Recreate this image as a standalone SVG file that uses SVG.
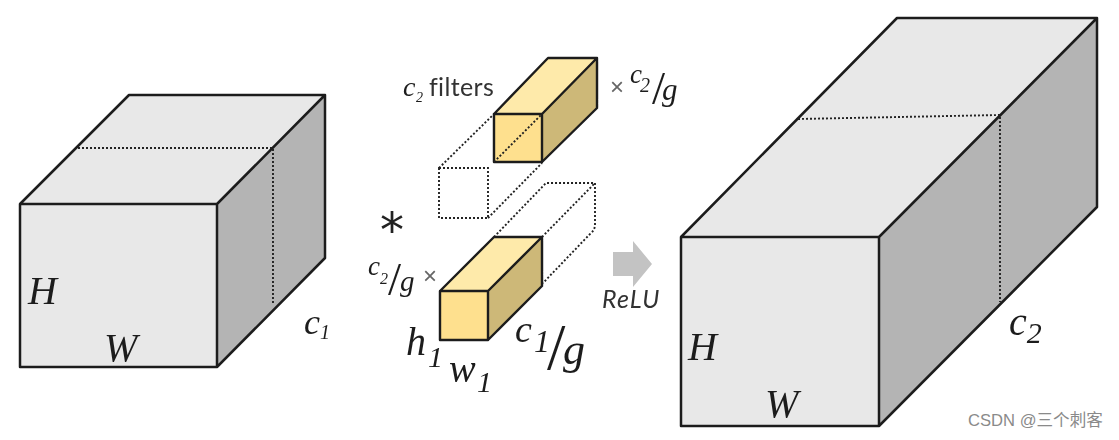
<svg xmlns="http://www.w3.org/2000/svg" width="1119" height="440" viewBox="0 0 1119 440">
<defs><filter id="soft" x="-5%" y="-5%" width="110%" height="110%"><feGaussianBlur stdDeviation="0.6"/></filter></defs>
<style>
.edge{stroke:#1c1c1c;stroke-width:2.5;stroke-linejoin:round;fill:none}
.thin{stroke:#1c1c1c;stroke-width:2.4;stroke-linejoin:round;fill:none}
.dot{stroke:#222;stroke-width:1.9;stroke-dasharray:2 2;fill:none}
.lf{fill:#e8e8e8}.ls{fill:#b4b4b4}
.yf{fill:#fee08e}.yt{fill:#feeaaa}.ys{fill:#cdb878}
.serif{font-family:"Liberation Serif",serif;font-style:italic;fill:#1c1c1c}
.up{font-style:normal}
.sans{font-family:Lato,"Liberation Sans",sans-serif;fill:#333}
.times{font-family:"Liberation Sans",sans-serif;fill:#666}
</style>
<rect width="1119" height="440" fill="#fff"/>
<g filter="url(#soft)">
<g id="input-cube">
<polygon class="lf" points="20,204 129,95 325,95 217,204"/>
<polygon class="lf" points="20,204 217,204 217,367 20,367"/>
<polygon class="ls" points="217,204 325,95 325,258 217,367"/>
<path class="edge" d="M20,204H217V367H20ZM20,204L129,95H325L217,204M325,95V258L217,367"/>
<path class="dot" d="M78,148H273V305"/>
<text class="serif" x="28" y="304" font-size="40">H</text>
<text class="serif" x="104" y="361" font-size="40">W</text>
<text class="serif" x="304" y="334" font-size="36">c<tspan font-size="20" dy="5">1</tspan></text>
</g>
<g id="filter-top">
<path class="dot" d="M439,168H488V218H439ZM439,168L494,114M488,218L542,163"/>
<polygon class="yf" points="494,114 542,114 542,162 494,162"/>
<polygon class="yt" points="494,114 548,58 597,58 542,114"/>
<polygon class="ys" points="542,114 597,58 597,108 542,162"/>
<path class="thin" d="M494,114H542V162H494ZM494,114L548,58H597L542,114M597,58V108L542,162"/>
<path class="dot" d="M494,162L542,114"/>
<text class="serif" x="403" y="96" font-size="28">c<tspan font-size="14" x="416" y="102">2</tspan></text>
<text class="sans" x="429" y="96" font-size="25" letter-spacing=".35">filters</text>
<text class="times" x="610" y="95" font-size="24">×</text>
<text class="serif" x="630" y="83" font-size="27">c<tspan font-size="20" x="640" y="92">2</tspan><tspan class="up" font-size="47" x="652" y="104">/</tspan><tspan font-size="31" x="662" y="100">g</tspan></text>
</g>
<g id="filter-bottom">
<path class="dot" d="M494,237L546,183H595V225Q595,230 590,234L543,283M542,237L595,183"/>
<polygon class="yf" points="440,291 488,291 488,340 440,340"/>
<polygon class="yt" points="440,291 494,237 542,237 488,291"/>
<polygon class="ys" points="488,291 542,237 542,286 488,340"/>
<path class="thin" d="M440,291H488V340H440ZM440,291L494,237H542L488,291M542,237V286L488,340"/>
<text class="serif" x="368" y="275" font-size="27">c<tspan font-size="16" x="380" y="284">2</tspan><tspan class="up" font-size="47" x="388" y="295">/</tspan><tspan font-size="29" x="400" y="291">g</tspan></text>
<text class="times" x="423" y="284" font-size="24">×</text>
<text class="serif" x="406" y="355" font-size="40">h<tspan font-size="30" x="428" y="367">1</tspan></text>
<text class="serif" x="449" y="382" font-size="40">w<tspan font-size="30" x="477" y="392">1</tspan></text>
<text class="serif" x="515" y="342" font-size="38">c<tspan font-size="32" x="534" y="352">1</tspan><tspan class="up" font-size="66" x="547" y="369">/</tspan><tspan font-size="44" x="563" y="364">g</tspan></text>
</g>
<g id="operator">
<text x="380" y="247" font-size="48" fill="#222" font-family="'DejaVu Sans',sans-serif">*</text>
</g>
<g id="relu">
<polygon fill="#c3c3c3" points="613,252 633,252 633,241 652,264 633,287 633,276 613,276"/>
<text class="sans" x="602" y="308" font-size="25" font-style="italic" letter-spacing="1.2">ReLU</text>
</g>
<g id="output-cube">
<polygon class="lf" points="681,237 897,18 1097,18 879,237"/>
<polygon class="lf" points="681,237 879,237 879,426 681,426"/>
<polygon class="ls" points="879,237 1097,18 1097,207 879,426"/>
<path class="edge" d="M681,237H879V426H681ZM681,237L897,18H1097L879,237M1097,18V207L879,426"/>
<path class="dot" d="M798,119L1000,115V302"/>
<text class="serif" x="688" y="360" font-size="40">H</text>
<text class="serif" x="765" y="417" font-size="40">W</text>
<text class="serif" x="1009" y="335" font-size="40">c<tspan font-size="30" dy="8">2</tspan></text>
</g>
</g>
<text id="watermark" x="968" y="426" font-size="16.6" fill="#8a8a8a" font-family="'Liberation Sans','Noto Sans CJK SC',sans-serif">CSDN @三个刺客</text>
</svg>
